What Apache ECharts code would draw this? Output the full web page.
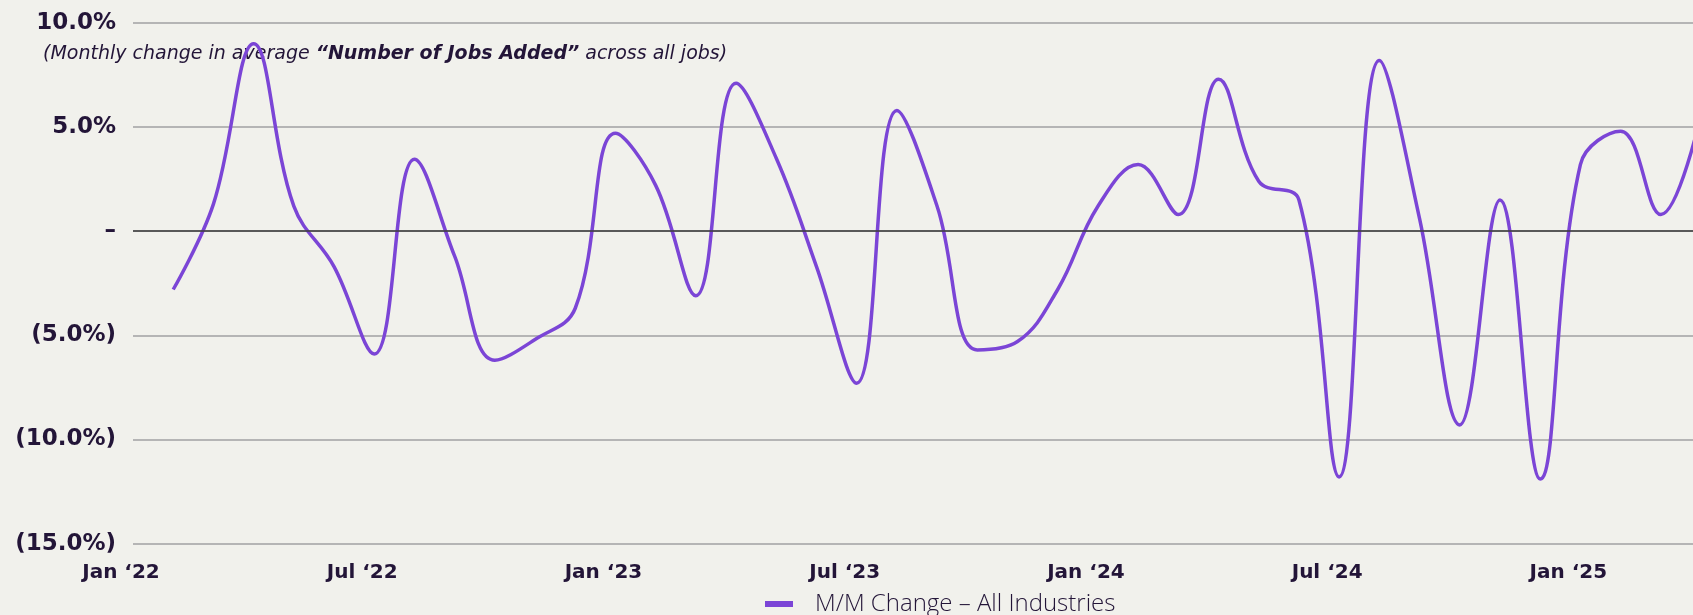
<!DOCTYPE html>
<html><head><meta charset="utf-8">
<script src="https://cdn.jsdelivr.net/npm/echarts@6/dist/echarts.min.js"></script>
<style>html,body{margin:0;padding:0;background:#F1F1EC;} #c{width:1693px;height:615px;}</style>
</head><body><div id="c"></div>
<script>
const categories = [
  'Jan \u201822','Feb \u201822','Mar \u201822','Apr \u201822','May \u201822','Jun \u201822',
  'Jul \u201822','Aug \u201822','Sep \u201822','Oct \u201822','Nov \u201822','Dec \u201822',
  'Jan \u201823','Feb \u201823','Mar \u201823','Apr \u201823','May \u201823','Jun \u201823',
  'Jul \u201823','Aug \u201823','Sep \u201823','Oct \u201823','Nov \u201823','Dec \u201823',
  'Jan \u201824','Feb \u201824','Mar \u201824','Apr \u201824','May \u201824','Jun \u201824',
  'Jul \u201824','Aug \u201824','Sep \u201824','Oct \u201824','Nov \u201824','Dec \u201824',
  'Jan \u201825','Feb \u201825','Mar \u201825','Apr \u201825'
];
const mmChange = [
  null, -2.8, 1.3, 9.0, 1.2, -1.7,
  -5.9, 3.45, -1.2, -6.2, -5.2, -3.7,
  4.7, 2.2, -3.1, 7.1, 3.5, -1.7,
  -7.3, 5.8, 1.2, -5.7, -5.3, -2.8,
  1.2, 3.2, 0.8, 7.3, 2.4, 1.5,
  -11.8, 8.2, 0.6, -9.3, 1.5, -11.9,
  3.2, 4.8, 0.8, 5.6
];
const yTickValues = [-15, -10, -5, 0, 5, 10];
const yTickLabels = ['(15.0%)', '(10.0%)', '(5.0%)', '\u2013', '5.0%', '10.0%'];
const seriesName = 'M/M Change \u2013 All Industries';
const subtitleParts = ['(Monthly change in average ', '\u201cNumber of Jobs Added\u201d', ' across all jobs)'];

const textColor = '#231538';
const lineColor = '#7B45D6';

const chart = echarts.init(document.getElementById('c'), null, {renderer: 'canvas'});
chart.setOption({
  backgroundColor: '#F1F1EC',
  animation: false,
  title: {
    text: '{i|' + subtitleParts[0] + '}{b|' + subtitleParts[1] + '}{i|' + subtitleParts[2] + '}',
    left: 38, top: 40, z: 1,
    textStyle: {
      fontWeight: 'normal',
      rich: {
        i: {fontFamily: 'DejaVu Sans', fontStyle: 'italic', fontWeight: 'normal', fontSize: 19, color: textColor},
        b: {fontFamily: 'DejaVu Sans', fontStyle: 'italic', fontWeight: 'bold', fontSize: 19, color: textColor}
      }
    }
  },
  legend: {
    data: [seriesName], left: 765, top: 592, padding: 0,
    icon: 'rect', itemWidth: 28, itemHeight: 6,
    textStyle: {fontFamily: 'Open Sans', fontWeight: 300, fontSize: 24, color: textColor, padding: [0, 0, 0, 17]}
  },
  grid: {left: 133, right: -8, top: 22.9, bottom: 71.4, containLabel: false, outerBoundsMode: 'none'},
  xAxis: {
    type: 'category', data: categories, boundaryGap: false,
    axisLine: {show: false}, axisTick: {show: false}, splitLine: {show: false},
    axisLabel: {interval: 5, margin: 19, fontFamily: 'DejaVu Sans', fontWeight: 'bold', fontSize: 20,
      color: textColor, padding: [0, 24, 0, 0]}
  },
  yAxis: {
    type: 'value', min: -15, max: 10, interval: 5,
    axisLine: {show: false}, axisTick: {show: false},
    splitLine: {lineStyle: {color: '#b5b5b5', width: 2}},
    axisLabel: {margin: 17, fontFamily: 'DejaVu Sans', fontWeight: 'bold', fontSize: 23, color: textColor,
      formatter: v => { const i = yTickValues.indexOf(v); return i >= 0 ? yTickLabels[i] : ''; }}
  },
  series: [{
    name: seriesName, type: 'line', data: mmChange, smooth: 0.4, symbol: 'none', z: 3,
    lineStyle: {color: lineColor, width: 3.5}, itemStyle: {color: lineColor},
    markLine: {silent: true, symbol: ['none', 'none'], label: {show: false},
      lineStyle: {color: '#3b3b3b', width: 1.5, type: 'solid'}, data: [{yAxis: 0}]}
  }]
});
</script></body></html>
